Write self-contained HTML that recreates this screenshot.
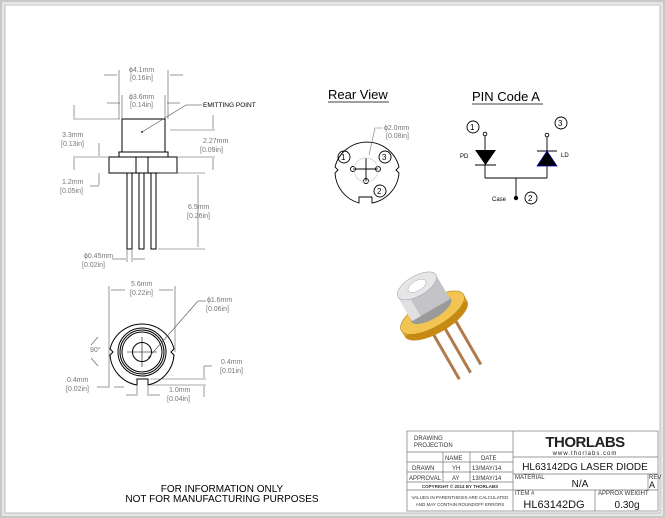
<!DOCTYPE html>
<html><head><meta charset="utf-8"><style>
html,body{margin:0;padding:0;background:#fff;}
svg{display:block;font-family:"Liberation Sans",sans-serif;}
</style></head><body>
<svg width="665" height="518" viewBox="0 0 665 518" xmlns="http://www.w3.org/2000/svg">
<rect x="0" y="0" width="665" height="518" fill="#c8c8c8"/>
<rect x="2" y="2" width="661" height="514" fill="#e6e6e6"/>
<rect x="5" y="5" width="655" height="508" fill="#fff" stroke="#bbb" stroke-width="1"/>
<rect x="4" y="4" width="657" height="2" fill="#ddd"/>

<!-- side view -->
<g stroke="#000" fill="none" stroke-width="1">
<rect x="122" y="119" width="43" height="33"/>
<rect x="119" y="152" width="49" height="5"/>
<rect x="109" y="157" width="68" height="16"/>
<rect x="136" y="157" width="12" height="16"/>
<rect x="127" y="173" width="5" height="76"/>
<rect x="139" y="173" width="5" height="76"/>
<rect x="151" y="173" width="5" height="76"/>
</g>
<g stroke="#555" stroke-width="0.6" fill="none">
<line x1="119" y1="70" x2="119" y2="119"/><line x1="168" y1="70" x2="168" y2="119"/>
<line x1="104" y1="75" x2="117" y2="75"/><line x1="170" y1="75" x2="183" y2="75"/>
<line x1="122" y1="95" x2="122" y2="119"/><line x1="165" y1="95" x2="165" y2="119"/>
<line x1="107" y1="103" x2="120" y2="103"/><line x1="167" y1="103" x2="180" y2="103"/>
<line x1="73" y1="119" x2="120" y2="119"/><line x1="74" y1="105" x2="74" y2="118"/>
<line x1="73" y1="157" x2="108" y2="157"/><line x1="74" y1="158" x2="74" y2="170"/>
<line x1="99" y1="143" x2="99" y2="156"/><line x1="99" y1="173" x2="99" y2="185"/>
<line x1="90" y1="186" x2="99" y2="186"/>
<line x1="142" y1="132" x2="186" y2="105"/><line x1="186" y1="105" x2="202" y2="105"/>
<line x1="170" y1="130" x2="215" y2="130"/><line x1="213" y1="115" x2="213" y2="129"/>
<line x1="178" y1="157" x2="215" y2="157"/><line x1="213" y1="158" x2="213" y2="170"/>
<line x1="158" y1="173" x2="205" y2="173"/><line x1="158" y1="249" x2="205" y2="249"/>
<line x1="198" y1="175" x2="198" y2="247"/>
<line x1="127" y1="250" x2="127" y2="262"/><line x1="132" y1="250" x2="132" y2="262"/>
<line x1="112" y1="259" x2="126" y2="259"/><line x1="133" y1="259" x2="145" y2="259"/>
</g>
<circle cx="142" cy="132" r="0.9" fill="#000"/>
<g font-size="7" fill="#777">
<text x="129" y="72">ɸ4.1mm</text><text x="130" y="80">[0.16in]</text>
<text x="129" y="99">ɸ3.6mm</text><text x="130" y="107">[0.14in]</text>
<text x="62" y="137">3.3mm</text><text x="61" y="146">[0.13in]</text>
<text x="203" y="143">2.27mm</text><text x="200" y="152">[0.09in]</text>
<text x="62" y="184">1.2mm</text><text x="60" y="193">[0.05in]</text>
<text x="188" y="209">6.5mm</text><text x="187" y="218">[0.26in]</text>
<text x="84" y="258">ɸ0.45mm</text><text x="82" y="267">[0.02in]</text>
</g>
<text x="203" y="107" font-size="6.5" fill="#000">EMITTING POINT</text>

<!-- bottom view -->
<g stroke="#000" fill="none" stroke-width="1">
<path d="M 137 385 L 137 379 L 148 379 L 148 385 A 33 33 0 0 0 174 355 L 171 352 L 174 349 A 33 33 0 0 0 110 349 L 113 352 L 110 355 A 33 33 0 0 0 137 385 Z"/>
<circle cx="142" cy="352" r="24"/>
<circle cx="142" cy="352" r="22"/>
<circle cx="142" cy="352" r="20"/>
<circle cx="142" cy="352" r="9.5"/>
<line x1="127" y1="352" x2="157" y2="352" stroke-width="0.6"/>
<line x1="142" y1="337" x2="142" y2="367" stroke-width="0.6"/>
</g>
<g stroke="#555" stroke-width="0.6" fill="none">
<line x1="109" y1="286" x2="109" y2="388"/><line x1="175" y1="286" x2="175" y2="352"/>
<line x1="111" y1="290" x2="125" y2="290"/><line x1="159" y1="290" x2="173" y2="290"/>
<line x1="148" y1="358" x2="198" y2="301"/><line x1="198" y1="301" x2="206" y2="301"/>
<line x1="98" y1="337" x2="91" y2="345"/><line x1="91" y1="358" x2="98" y2="366"/>
<line x1="97" y1="387" x2="108" y2="387"/><line x1="114" y1="387" x2="124" y2="387"/>
<line x1="150" y1="385" x2="206" y2="385"/><line x1="150" y1="379" x2="206" y2="379"/>
<line x1="204" y1="366" x2="204" y2="378"/><line x1="204" y1="386" x2="204" y2="397"/>
<line x1="204" y1="366" x2="212" y2="366"/>
<line x1="137" y1="386" x2="137" y2="396"/><line x1="148" y1="386" x2="148" y2="396"/>
<line x1="126" y1="395" x2="136" y2="395"/><line x1="149" y1="395" x2="160" y2="395"/>
</g>
<g font-size="7" fill="#777">
<text x="131" y="286">5.6mm</text><text x="130" y="295">[0.22in]</text>
<text x="207" y="302">ɸ1.6mm</text><text x="206" y="311">[0.06in]</text>
<text x="90" y="352">90°</text>
<text x="221" y="364">0.4mm</text><text x="220" y="373">[0.01in]</text>
<text x="67" y="382">0.4mm</text><text x="66" y="391">[0.02in]</text>
<text x="169" y="392">1.0mm</text><text x="167" y="401">[0.04in]</text>
</g>

<!-- rear view -->
<text x="328" y="99" font-size="13" fill="#000">Rear View</text>
<line x1="328" y1="102" x2="389" y2="102" stroke="#000" stroke-width="0.8"/>
<g stroke="#000" fill="none" stroke-width="0.9">
<path d="M 359 203 L 359 197 L 372 197 L 372 203 A 33 33 0 0 0 399 173 L 396 170 L 399 167 A 33 33 0 0 0 335 167 L 338 170 L 335 173 A 33 33 0 0 0 359 203 Z"/>
<circle cx="353" cy="169" r="2.5"/><circle cx="378" cy="169" r="2.5"/><circle cx="366" cy="181" r="2.5"/>
<line x1="353" y1="169" x2="378" y2="169"/><line x1="366" y1="158" x2="366" y2="181"/>
<circle cx="344" cy="157" r="6"/><circle cx="385" cy="157" r="6"/><circle cx="380" cy="191" r="6"/>
</g>
<circle cx="366" cy="170" r="12" fill="none" stroke="#ccc" stroke-width="0.7"/>
<polyline points="369,155 375,128 383,128" fill="none" stroke="#777" stroke-width="0.6"/>
<g font-size="8" fill="#000"><text x="341" y="160">1</text><text x="382" y="160">3</text><text x="377" y="194">2</text></g>
<g font-size="7" fill="#777"><text x="384" y="130">ɸ2.0mm</text><text x="386" y="138">[0.08in]</text></g>

<!-- pin code -->
<text x="472" y="101" font-size="13" fill="#000">PIN Code A</text>
<line x1="472" y1="104" x2="543" y2="104" stroke="#000" stroke-width="0.8"/>
<g stroke="#000" fill="none" stroke-width="0.9">
<circle cx="473" cy="127" r="6"/><circle cx="561" cy="123" r="6"/><circle cx="531" cy="198" r="6"/>
<circle cx="485" cy="134" r="1.8"/><circle cx="547" cy="135" r="1.8"/>
<line x1="485" y1="136" x2="485" y2="178"/><line x1="547" y1="137" x2="547" y2="178"/>
<line x1="485" y1="178" x2="547" y2="178"/><line x1="516" y1="178" x2="516" y2="197"/>
<line x1="475" y1="165" x2="496" y2="165"/><line x1="537" y1="151" x2="557" y2="151"/>
</g>
<polygon points="475,150 496,150 485.5,165" fill="#000"/>
<polygon points="537,166 557,166 547,151" fill="#000" stroke="#00a" stroke-width="0.7"/>
<circle cx="516" cy="198" r="2.2" fill="#000"/>
<g font-size="8" fill="#000"><text x="470" y="130">1</text><text x="558" y="126">3</text><text x="528" y="201">2</text></g>
<g font-size="6" fill="#000"><text x="460" y="158">PD</text><text x="561" y="157">LD</text><text x="492" y="201">Case</text></g>

<!-- 3D -->
<g transform="translate(424,298) rotate(-30)">
<line x1="-10" y1="24" x2="-10" y2="88" stroke="#b07a4a" stroke-width="3"/>
<line x1="3" y1="24" x2="3" y2="88" stroke="#b07a4a" stroke-width="3"/>
<line x1="16" y1="24" x2="16" y2="86" stroke="#b07a4a" stroke-width="3"/>
<ellipse cx="0" cy="24" rx="36" ry="14" fill="#c68a14"/>
<rect x="-36" y="17" width="72" height="7" fill="#d9a02a"/>
<ellipse cx="0" cy="17" rx="36" ry="14" fill="#f2c552" stroke="#b28218" stroke-width="0.6"/>
<ellipse cx="0" cy="14" rx="23" ry="9" fill="#9a9a9a"/>
<rect x="-22" y="-14" width="44" height="28" fill="#c4c4c8"/>
<rect x="-22" y="-14" width="10" height="28" fill="#e0e0e3"/>
<ellipse cx="0" cy="-14" rx="22" ry="10" fill="#e6e6e8" stroke="#999" stroke-width="0.5"/>
<ellipse cx="0" cy="-14" rx="10" ry="5" fill="#fff" stroke="#aaa" stroke-width="0.5"/>
</g>

<!-- notice -->
<g font-size="10" fill="#000" text-anchor="middle">
<text x="222" y="492">FOR INFORMATION ONLY</text>
<text x="222" y="502">NOT FOR MANUFACTURING PURPOSES</text>
</g>

<!-- title block -->
<g stroke="#777" stroke-width="0.7" fill="none">
<rect x="407" y="431" width="251" height="80"/>
<line x1="513" y1="431" x2="513" y2="511"/>
<line x1="407" y1="452" x2="513" y2="452"/>
<line x1="407" y1="462" x2="513" y2="462"/>
<line x1="407" y1="472" x2="513" y2="472"/>
<line x1="407" y1="482" x2="513" y2="482"/>
<line x1="407" y1="490" x2="513" y2="490"/>
<line x1="443" y1="452" x2="443" y2="482"/>
<line x1="470" y1="452" x2="470" y2="482"/>
<line x1="513" y1="457" x2="658" y2="457"/>
<line x1="513" y1="474" x2="658" y2="474"/>
<line x1="513" y1="490" x2="658" y2="490"/>
<line x1="648" y1="474" x2="648" y2="490"/>
<line x1="595" y1="490" x2="595" y2="511"/>
</g>
<g font-size="6" fill="#333">
<text x="414" y="440">DRAWING</text><text x="414" y="447">PROJECTION</text>
<text x="445" y="460">NAME</text><text x="481" y="460">DATE</text>
<text x="412" y="470">DRAWN</text><text x="452" y="470">YH</text><text x="472" y="470">13/MAY/14</text>
<text x="409" y="480">APPROVAL</text><text x="452" y="480">AY</text><text x="472" y="480">13/MAY/14</text>
<text x="460" y="488" text-anchor="middle" font-size="4.5" font-weight="bold">COPYRIGHT © 2014 BY THORLABS</text>
<text x="460" y="499" text-anchor="middle" font-size="4.5">VALUES IN PARENTHESIS ARE CALCULATED</text>
<text x="460" y="506" text-anchor="middle" font-size="4.5">AND MAY CONTAIN ROUNDOFF ERRORS</text>
<text x="515" y="479">MATERIAL</text>
<text x="649" y="479">REV</text>
<text x="515" y="495">ITEM #</text>
<text x="598" y="495">APPROX WEIGHT</text>
</g>
<text x="585" y="447" font-size="15" font-weight="bold" text-anchor="middle" fill="#222" letter-spacing="-0.5">THORLABS</text>
<text x="585" y="455" font-size="6" text-anchor="middle" fill="#222" letter-spacing="1">www.thorlabs.com</text>
<text x="585" y="470" font-size="10" text-anchor="middle" fill="#111">HL63142DG LASER DIODE</text>
<text x="580" y="487" font-size="10" text-anchor="middle" fill="#111">N/A</text>
<text x="649" y="488" font-size="9" fill="#111">A</text>
<text x="554" y="508" font-size="11" text-anchor="middle" fill="#111">HL63142DG</text>
<text x="627" y="508" font-size="10" text-anchor="middle" fill="#111">0.30g</text>
</svg>
</body></html>
